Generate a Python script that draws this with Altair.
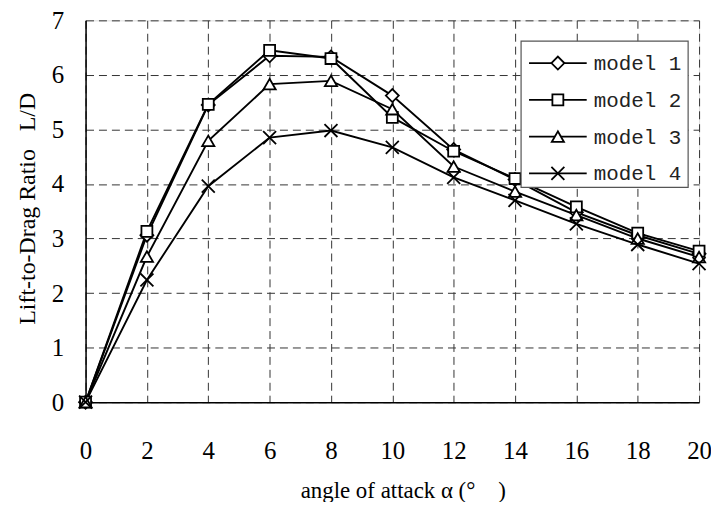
import altair as alt
import pandas as pd

angles = [0, 2, 4, 6, 8, 10, 12, 14, 16, 18, 20]
model_names = ["model 1", "model 2", "model 3", "model 4"]
model1 = [0, 3.06, 5.45, 6.35, 6.33, 5.62, 4.63, 4.08, 3.48, 3.06, 2.72]
model2 = [0, 3.13, 5.46, 6.45, 6.30, 5.22, 4.60, 4.10, 3.58, 3.10, 2.77]
model3 = [0, 2.67, 4.79, 5.83, 5.89, 5.37, 4.32, 3.86, 3.43, 3.00, 2.66]
model4 = [0, 2.24, 3.96, 4.85, 4.98, 4.67, 4.12, 3.70, 3.27, 2.89, 2.54]
series = [model1, model2, model3, model4]
x_ticks = [0, 2, 4, 6, 8, 10, 12, 14, 16, 18, 20]
y_ticks = [0, 1, 2, 3, 4, 5, 6, 7]

X_PATH = "M-1,-1L1,1M-1,1L1,-1"
shapes = ["diamond", "square", "triangle-up", X_PATH]
sizes = [170, 121, 150, 170]
filled = [True, True, True, False]

W, H = 617, 384
SERIF = "Liberation Serif, 'Noto Sans CJK SC'"

x_enc = alt.X("angle:Q", scale=alt.Scale(domain=[0, 20], nice=False, zero=True),
              axis=alt.Axis(values=x_ticks, title="angle of attack α (°\u3000)", format="d",
                            labelFont=SERIF, labelFontSize=25, labelColor="black",
                            labelPadding=57, labelBaseline="alphabetic", labelFlush=False,
                            ticks=False, tickSize=0,
                            titleFont=SERIF, titleFontSize=23, titleFontWeight="normal",
                            titleColor="black", titleX=319, titleY=96, titleAlign="center",
                            titleBaseline="alphabetic",
                            grid=True, gridColor="#333333", gridDash=[8, 5], gridWidth=1,
                            domainColor="black", domainWidth=1.5))
y_enc = alt.Y("value:Q", scale=alt.Scale(domain=[0, 7], nice=False, zero=True),
              axis=alt.Axis(values=y_ticks, title="Lift-to-Drag Ratio\u2002 L/D", format="d",
                            labelFont=SERIF, labelFontSize=25, labelColor="black",
                            labelPadding=22, ticks=False, tickSize=0,
                            titleFont=SERIF, titleFontSize=24, titleFontWeight="normal",
                            titleColor="black", titleX=-58, titleY=189,
                            titleAngle=270, titleAlign="center", titleBaseline="middle",
                            grid=True, gridColor="#333333", gridDash=[8, 5], gridWidth=1,
                            domainColor="black", domainWidth=1.5))

layers = []
for name, vals in zip(model_names, series):
    df = pd.DataFrame({"angle": angles, "value": vals, "model": name})
    layers.append(alt.Chart(df).mark_line(color="black", strokeWidth=1.9).encode(x=x_enc, y=y_enc))
for name, vals, shp, sz, fl in zip(model_names, series, shapes, sizes, filled):
    df = pd.DataFrame({"angle": angles, "value": vals, "model": name})
    if fl:
        pm = alt.Chart(df).mark_point(shape=shp, size=sz, filled=True, fill="white",
                                      stroke="black", strokeWidth=1.8, opacity=1)
    else:
        pm = alt.Chart(df).mark_point(shape=shp, size=sz, filled=False, stroke="black",
                                      strokeWidth=1.8, opacity=1)
    layers.append(pm.encode(x="angle:Q", y="value:Q"))

# legend box (layout in pixels)
one = pd.DataFrame({"k": [0]})
layers.append(alt.Chart(one).mark_rect(fill="white", stroke="#555555", strokeWidth=1.2).encode(
    x=alt.value(438), x2=alt.value(606), y=alt.value(21), y2=alt.value(168)))
for i, (name, shp, sz, fl) in enumerate(zip(model_names, shapes, sizes, filled)):
    ly = 43 + i * 37
    layers.append(alt.Chart(one).mark_rule(color="black", strokeWidth=1.8).encode(
        x=alt.value(446), x2=alt.value(504), y=alt.value(ly)))
    if fl:
        m = alt.Chart(one).mark_point(shape=shp, size=sz, filled=True, fill="white",
                                      stroke="black", strokeWidth=1.8, opacity=1)
    else:
        m = alt.Chart(one).mark_point(shape=shp, size=sz, filled=False,
                                      stroke="black", strokeWidth=1.8, opacity=1)
    layers.append(m.encode(x=alt.value(475), y=alt.value(ly)))
    layers.append(alt.Chart(one).mark_text(text=name, font="Liberation Mono", fontSize=21,
                                           align="left", baseline="middle", color="#222222").encode(
        x=alt.value(511), y=alt.value(ly + 1)))

chart = alt.layer(*layers).properties(
    width=W, height=H, autosize="none",
    padding={"left": 78, "top": 11, "right": 12, "bottom": 99},
).configure_view(stroke="black", strokeWidth=1.5).configure(background="white")

chart.save("out.html", embed_options={"renderer": "svg", "actions": False})
